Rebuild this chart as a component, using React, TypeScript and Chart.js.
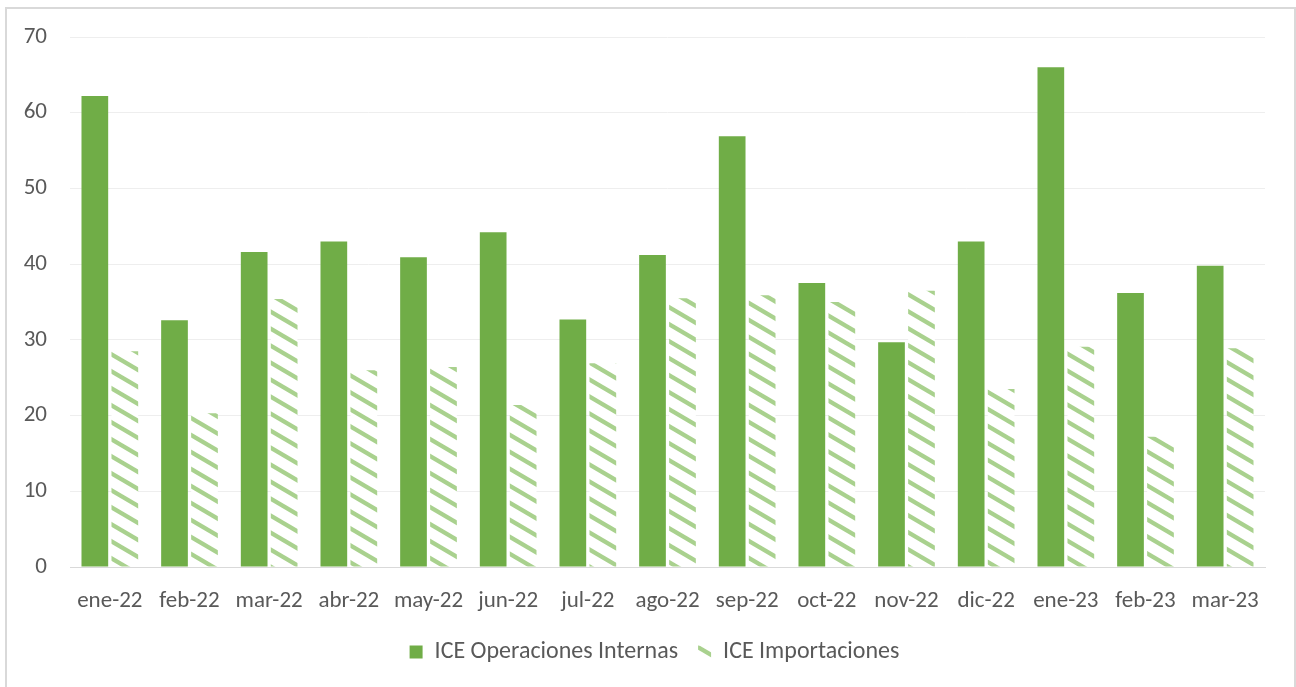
import React, { useEffect, useRef } from "react";
import { Chart, registerables } from "chart.js";

Chart.register(...registerables);

const categories = ["ene-22", "feb-22", "mar-22", "abr-22", "may-22", "jun-22", "jul-22", "ago-22", "sep-22", "oct-22", "nov-22", "dic-22", "ene-23", "feb-23", "mar-23"];
const operacionesInternas = [62.2, 32.6, 41.6, 43.0, 40.9, 44.2, 32.7, 41.2, 56.9, 37.5, 29.7, 43.0, 66.0, 36.2, 39.8];
const importaciones = [28.5, 20.3, 35.4, 26.0, 26.4, 21.4, 26.9, 35.5, 35.9, 35.0, 36.5, 23.5, 29.1, 17.2, 28.9];
const seriesNames = ["ICE Operaciones Internas", "ICE Importaciones"];
const yTicks = [0, 10, 20, 30, 40, 50, 60, 70];

const GREEN = "#70ad47";
const LIGHT = "#a9d18e";
const TEXT = "#595959";
const FONT = "Carlito, Lato, 'Open Sans', sans-serif";

function makeHatch(): CanvasPattern | string {
  const W = 29;
  const H = 17;
  const c = document.createElement("canvas");
  c.width = W;
  c.height = H;
  const g = c.getContext("2d");
  if (!g) return LIGHT;
  g.fillStyle = "#ffffff";
  g.fillRect(0, 0, W, H);
  g.strokeStyle = LIGHT;
  g.lineWidth = 4.3;
  for (const off of [-H, 0, H]) {
    g.beginPath();
    g.moveTo(-W, -H + off);
    g.lineTo(2 * W, 2 * H + off);
    g.stroke();
  }
  const p = g.createPattern(c, "repeat");
  return p || LIGHT;
}

const legendShift = {
  id: "legendShift",
  afterLayout(chart: any) {
    if (chart.legend) {
      chart.legend.left += 22;
      chart.legend.right += 22;
    }
  },
};

export default function App() {
  const ref = useRef<HTMLCanvasElement>(null);

  useEffect(() => {
    if (!ref.current) return;
    const hatch = makeHatch();
    const chart = new Chart(ref.current, {
      type: "bar",
      data: {
        labels: categories,
        datasets: [
          {
            label: seriesNames[0],
            data: operacionesInternas,
            backgroundColor: GREEN,
            borderWidth: 0,
            categoryPercentage: 0.753,
            barPercentage: 0.89,
          },
          {
            label: seriesNames[1],
            data: importaciones,
            backgroundColor: hatch as any,
            borderWidth: 0,
            categoryPercentage: 0.753,
            barPercentage: 0.89,
          },
        ],
      },
      plugins: [legendShift],
      options: {
        responsive: false,
        animation: false,
        devicePixelRatio: 1,
        layout: { padding: { left: 0, right: 31, top: 37, bottom: 13 } },
        plugins: {
          legend: {
            position: "bottom",
            labels: {
              font: { family: FONT, size: 24 },
              color: TEXT,
              boxWidth: 13,
              boxHeight: 13,
              padding: 20,
            },
          },
          tooltip: { enabled: false },
        },
        scales: {
          x: {
            grid: { display: false },
            border: { display: true, color: "#d9d9d9", width: 1 },
            ticks: {
              font: { family: FONT, size: 23 },
              color: TEXT,
              padding: 12,
              maxRotation: 0,
              autoSkip: false,
            },
            afterFit: (scale: any) => {
              scale.height = 53;
            },
          },
          y: {
            min: 0,
            max: 70,
            afterBuildTicks: (scale: any) => {
              scale.ticks = yTicks.map((v) => ({ value: v }));
            },
            grid: {
              color: (ctx: any) => (ctx.tick && ctx.tick.value === 0 ? "#d9d9d9" : "#eeeeee"),
              drawTicks: false,
            },
            border: { display: false },
            ticks: {
              font: { family: FONT, size: 23 },
              color: TEXT,
              padding: 23,
            },
            afterFit: (scale: any) => {
              scale.width = 70;
            },
          },
        },
      },
    });
    return () => chart.destroy();
  }, []);

  return (
    <div style={{ position: "absolute", left: 0, top: 0, width: 1296, height: 687, background: "#ffffff", overflow: "hidden" }}>
      <div
        style={{
          position: "absolute",
          left: 5,
          top: 7,
          width: 1291,
          height: 700,
          boxSizing: "border-box",
          border: "2px solid #d9d9d9",
        }}
      />
      <canvas ref={ref} width={1296} height={687} style={{ position: "absolute", left: 0, top: 0, width: 1296, height: 687 }} />
    </div>
  );
}
